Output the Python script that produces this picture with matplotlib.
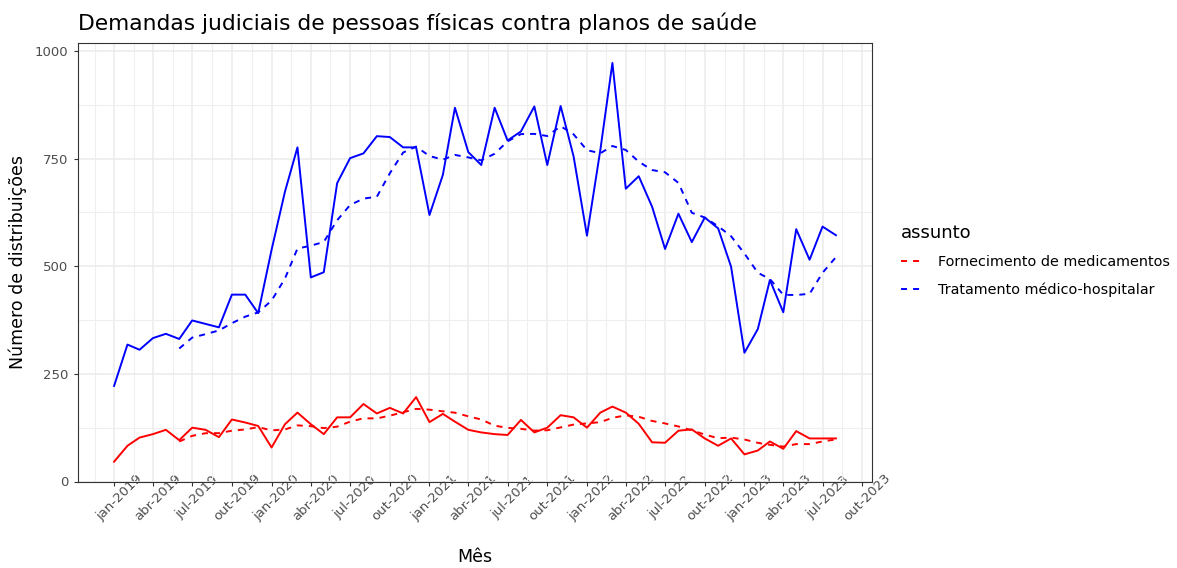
import numpy as np
import pandas as pd
import matplotlib
matplotlib.use('Agg')
import matplotlib.pyplot as plt
from matplotlib.transforms import ScaledTranslation

# distribuicoes mensais, jan-2019 a ago-2023
meses = pd.date_range('2019-01-01', '2023-08-01', freq='MS')

medicamentos = [46, 83, 102, 110, 120, 96, 125, 120, 103, 144, 137, 129,
                79, 133, 160, 133, 110, 149, 149, 180, 158, 171, 158, 196,
                138, 157, 139, 120, 114, 110, 108, 143, 114, 125, 154, 149,
                125, 160, 174, 160, 134, 91, 90, 118, 121, 100, 83, 100,
                63, 72, 93, 76, 117, 100, 100, 100]

tratamento = [222, 318, 306, 333, 343, 331, 374, 366, 358, 434, 434, 391,
              538, 673, 776, 474, 486, 693, 751, 762, 802, 800, 776, 776,
              619, 712, 868, 765, 735, 868, 792, 813, 871, 735, 872, 755,
              571, 770, 972, 680, 709, 638, 540, 622, 556, 613, 588, 499,
              299, 354, 468, 393, 586, 515, 592, 572]

assuntos = ['Fornecimento de medicamentos', 'Tratamento médico-hospitalar']
cores = ['#FF0000', '#0000FF']
mes_pt = ['jan', 'fev', 'mar', 'abr', 'mai', 'jun',
          'jul', 'ago', 'set', 'out', 'nov', 'dez']

W, H = 1177, 568
fig = plt.figure(figsize=(W / 100, H / 100), dpi=100)
ax = fig.add_axes([78 / W, 1 - 481.5 / H, (872 - 78) / W, (481.5 - 43.3) / H])

for serie, cor, nome in zip([medicamentos, tratamento], cores, assuntos):
    s = pd.Series(serie, index=meses)
    ax.plot(meses, s.values, color=cor, lw=1.4)
    ax.plot(meses, s.rolling(6).mean().values, color=cor, lw=1.4,
            ls=(0, (3.1, 3.1)), label=nome)

pad = (meses[-1] - meses[0]) * 0.05
ax.set_xlim(meses[0] - pad, meses[-1] + pad)
ax.set_ylim(0, max(tratamento) * 1.047)

trimestres = pd.date_range('2019-01-01', '2023-10-01', freq='QS')
ax.set_xticks(trimestres)
ax.set_xticklabels([f'{mes_pt[d.month - 1]}-{d.year}' for d in trimestres])
meio = [trimestres[0] - (trimestres[1] - trimestres[0]) / 2]
meio += [a + (b - a) / 2 for a, b in zip(trimestres[:-1], trimestres[1:])]
ax.set_xticks(meio, minor=True)

ax.set_yticks([0, 250, 500, 750, 1000])
ax.set_yticks([125, 375, 625, 875], minor=True)

ax.set_axisbelow(True)
ax.grid(which='major', color='#EBEBEB', lw=1.1)
ax.grid(which='minor', color='#EFEFEF', lw=0.8)
for sp in ax.spines.values():
    sp.set_color('#333333')
    sp.set_linewidth(0.8)

ax.tick_params(which='major', length=3, width=0.8, color='#333333',
               labelsize=9.5, labelcolor='#4D4D4D')
ax.tick_params(which='minor', length=0)
ax.tick_params(axis='y', pad=4)
ax.tick_params(axis='x', pad=8.4)
desloc = ScaledTranslation(5 / 100, 0, fig.dpi_scale_trans)
for lab in ax.get_xticklabels():
    lab.set_rotation(45)
    lab.set_ha('center')
    lab.set_va('center')
    lab.set_rotation_mode('anchor')
    lab.set_transform(lab.get_transform() + desloc)

ax.set_title('Demandas judiciais de pessoas físicas contra planos de saúde',
             loc='left', fontsize=15.7, pad=9.6)
ax.set_xlabel('Mês', fontsize=12.5, va='center')
ax.xaxis.set_label_coords(0.5, -(557 - 481.5) / 438.2)
ax.set_ylabel('Número de distribuições', fontsize=12.5, va='center')
ax.yaxis.set_label_coords((18 - 78) / 794, 0.5)

handles, labels = ax.get_legend_handles_labels()
fig.legend(handles, labels, loc='upper left',
           bbox_to_anchor=(901 / W, 1 - 223.5 / H), frameon=False,
           title='assunto', title_fontsize=13, fontsize=10.4,
           handlelength=1.66, handletextpad=0.9, labelspacing=0.93,
           borderpad=0, borderaxespad=0, alignment='left')

fig.savefig('out.png', dpi=100)
